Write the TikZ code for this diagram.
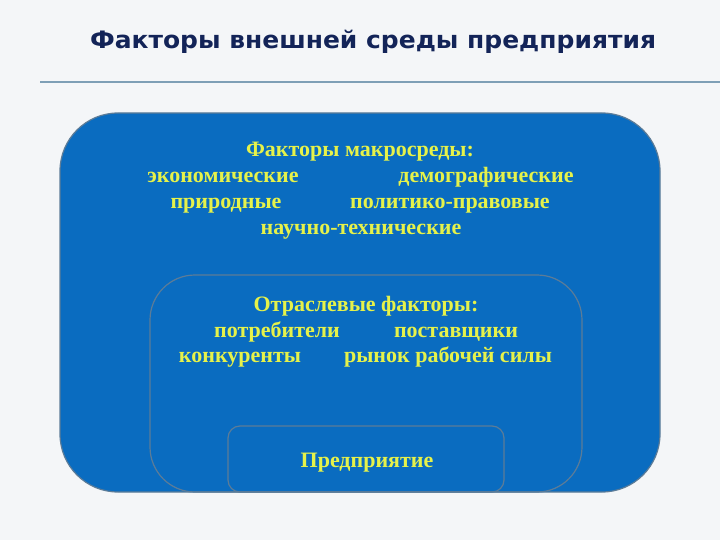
\documentclass[tikz,border=0pt]{standalone}
\usepackage{fontspec}
\setmainfont{Liberation Serif}
\newfontfamily\titlefont[FakeStretch=1.04]{DejaVu Sans}
\usetikzlibrary{positioning, backgrounds}
\definecolor{slidebg}{HTML}{F4F6F8}
\definecolor{titlenavy}{HTML}{132458}
\definecolor{rulegray}{HTML}{7E9FB6}
\definecolor{zoneblue}{HTML}{0A6CC0}
\definecolor{zoneedge}{HTML}{5C7C98}
\definecolor{factoryellow}{HTML}{E6F24A}

\begin{document}
\begin{tikzpicture}[x=1pt, y=-1pt,
                zone/.style={draw=zoneedge, line width=1.2pt, fill=zoneblue},
                factor/.style={text=factoryellow, font=\bfseries\fontsize{22}{26}\selectfont,
                               inner sep=0pt, anchor=base}]

                % Slide background
                \fill[slidebg] (0,0) rectangle (720,540);
                \useasboundingbox (0,0) rectangle (720,540);

                % Title and rule
                \node[text=titlenavy, font=\titlefont\bfseries\fontsize{24}{28}\selectfont,
                      inner sep=0pt, anchor=base] (title) at (373,49) {Факторы внешней среды предприятия};
                \coordinate (rulel) at (40,82);
                \coordinate (ruler) at (720,82);
                \draw[rulegray, line width=1.6pt] (rulel) -- (ruler);

                % Nested zones
                \draw[zone, rounded corners=58pt] (60,113) rectangle (660,492) coordinate (macro);
                \draw[zoneedge, line width=1.2pt, rounded corners=45pt] (150,275) rectangle (582,492) coordinate (branch);
                \draw[zoneedge, line width=1.2pt, rounded corners=12pt] (228,426) rectangle (504,492) coordinate (firm);

                % Macro-environment factors
                \node[factor] (macrohead) at (360,157) {Факторы макросреды:};
                \node[factor] (econ) at (223,183) {экономические};
                \node[factor] (demo) at (486,183) {демографические};
                \node[factor] (nature) at (226,209) {природные};
                \node[factor] (polit) at (450,209) {политико-правовые};
                \node[factor] (scitech) at (361,234) {научно-технические};

                % Branch factors
                \node[factor] (branchhead) at (366,311) {Отраслевые факторы:};
                \node[factor] (consum) at (277,337) {потребители};
                \node[factor] (suppl) at (456,337) {поставщики};
                \node[factor] (compet) at (240,362) {конкуренты};
                \node[factor] (labour) at (448,362) {рынок рабочей силы};

                % Enterprise
                \node[factor] (firmname) at (367,467) {Предприятие};
\end{tikzpicture}
\end{document}
